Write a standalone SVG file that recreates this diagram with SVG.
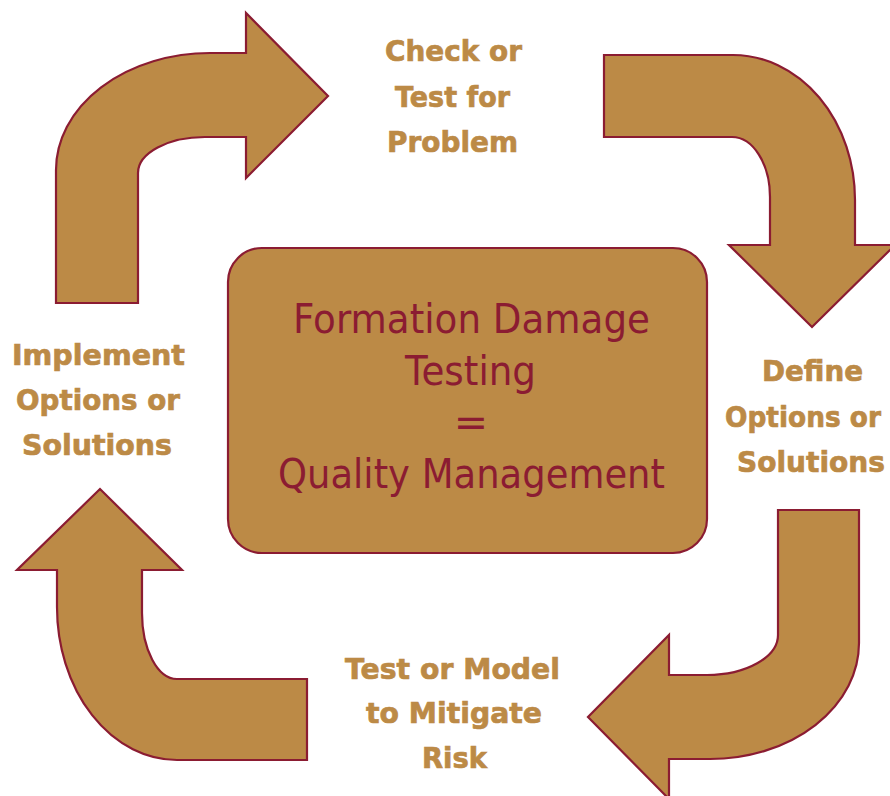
<svg xmlns="http://www.w3.org/2000/svg" width="890" height="796" viewBox="0 0 890 796">
  <style>
    .arrow { fill: #BC8A46; stroke: #8B1C32; stroke-width: 2.2; stroke-linejoin: miter; }
    .box { fill: #BC8A46; stroke: #8B1C32; stroke-width: 2.2; }
    .label { font-family: "DejaVu Sans", Verdana, sans-serif; font-weight: bold; font-size: 29px; fill: #BC8A46; stroke: #BC8A46; stroke-width: 0.7; text-anchor: middle; }
    .title { font-family: "DejaVu Sans", Verdana, sans-serif; font-size: 41px; fill: #8B1C32; text-anchor: middle; }
  </style>
  <rect width="890" height="796" fill="#FFFFFF"/>

  <!-- curved block arrows forming the cycle -->
  <g id="connectors">
    <path id="arrow-implement-to-check" class="arrow" d="M56,303 L56,170 A154,117 0 0 1 210,53 L246,53 L246,13 L328,96 L246,178 L246,137 L205,137 A67,36 0 0 0 138,173 L138,303 Z"/>
    <path id="arrow-check-to-define" class="arrow" d="M604,55 L733,55 A122,145 0 0 1 855,200 L855,245 L895,245 L812,327 L729,245 L770,245 L770,197 A38,60 0 0 0 732,137 L604,137 Z"/>
    <path id="arrow-define-to-test" class="arrow" d="M859,510 L859,643 A149,116 0 0 1 710,759 L669,759 L669,799 L588,717 L669,635 L669,675 L707,675 A71,40 0 0 0 778,635 L778,510 Z"/>
    <path id="arrow-test-to-implement" class="arrow" d="M307,679 L307,760 L177,760 A120,153 0 0 1 57,607 L57,570 L17,570 L100,489 L182,570 L142,570 L142,613 A35,66 0 0 0 177,679 Z"/>
  </g>

  <!-- central box -->
  <g id="node-center">
    <rect class="box" x="228" y="248" width="479" height="305" rx="34" ry="34"/>
    <text class="title" x="471.5" y="333" textLength="357" lengthAdjust="spacingAndGlyphs">Formation Damage</text>
    <text class="title" x="470.5" y="385" textLength="131" lengthAdjust="spacingAndGlyphs">Testing</text>
    <text class="title" x="471" y="436">=</text>
    <text class="title" x="471.5" y="488" textLength="387" lengthAdjust="spacingAndGlyphs">Quality Management</text>
  </g>

  <g id="node-check">
    <text class="label" x="453.5" y="61" textLength="137" lengthAdjust="spacingAndGlyphs">Check or</text>
    <text class="label" x="452.5" y="107" textLength="115" lengthAdjust="spacingAndGlyphs">Test for</text>
    <text class="label" x="452.5" y="152" textLength="131" lengthAdjust="spacingAndGlyphs">Problem</text>
  </g>

  <g id="node-define">
    <text class="label" x="812.5" y="381" textLength="101" lengthAdjust="spacingAndGlyphs">Define</text>
    <text class="label" x="803" y="427" font-size="27" textLength="156" lengthAdjust="spacingAndGlyphs">Options or</text>
    <text class="label" x="811" y="472" textLength="148" lengthAdjust="spacingAndGlyphs">Solutions</text>
  </g>

  <g id="node-test">
    <text class="label" x="452.5" y="679" textLength="215" lengthAdjust="spacingAndGlyphs">Test or Model</text>
    <text class="label" x="454" y="723" textLength="176" lengthAdjust="spacingAndGlyphs">to Mitigate</text>
    <text class="label" x="454.5" y="768" textLength="65" lengthAdjust="spacingAndGlyphs">Risk</text>
  </g>

  <g id="node-implement">
    <text class="label" x="98.5" y="365" textLength="173" lengthAdjust="spacingAndGlyphs">Implement</text>
    <text class="label" x="98" y="410" textLength="164" lengthAdjust="spacingAndGlyphs">Options or</text>
    <text class="label" x="97" y="455" textLength="150" lengthAdjust="spacingAndGlyphs">Solutions</text>
  </g>
</svg>
